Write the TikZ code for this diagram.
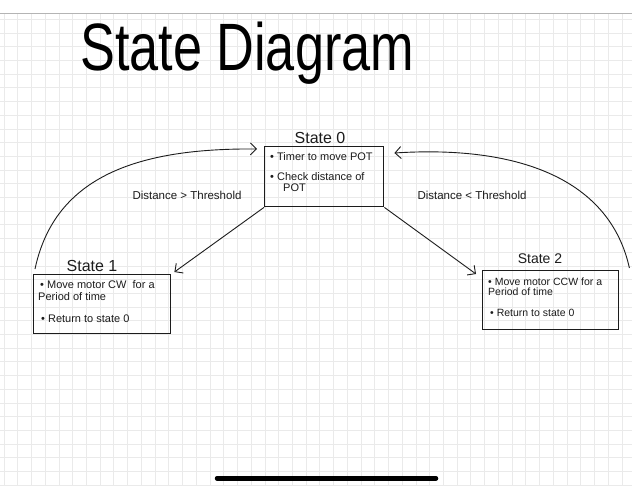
\documentclass[tikz,border=0pt]{standalone}
\usepackage{fontspec}
\setmainfont{Liberation Sans}
\usetikzlibrary{arrows.meta}
\definecolor{ink}{HTML}{1C1C1C}
\definecolor{gridc}{HTML}{EAEAEA}
\definecolor{topline}{HTML}{B4B4B4}
\begin{document}
\begin{tikzpicture}[x=1pt,y=-1pt,
  statebox/.style={draw=ink, line width=1.4pt, inner sep=0pt, anchor=north west},
  bodytxt/.style={font=\fontsize{11}{13}\selectfont, anchor=base west, inner sep=0pt, text=ink},
  smalltxt/.style={font=\fontsize{10.5}{12}\selectfont, anchor=base west, inner sep=0pt, text=ink},
  statelbl/.style={font=\fontsize{16}{18}\selectfont, anchor=base, inner sep=0pt, text=ink},
  condlbl/.style={font=\fontsize{11.5}{13}\selectfont, anchor=base, inner sep=0pt, text=ink},
  conn/.style={draw=ink, line width=0.9pt, -{Straight Barb[length=6pt,width=12pt,line width=0.9pt]}}
]
\useasboundingbox (0,0) rectangle (632,485);
\fill[white] (0,0) rectangle (632,485);
% grid
\foreach \k in {0,...,45} {\draw[gridc, line width=0.7pt] (4+13.73*\k,13.3) -- (4+13.73*\k,485);}
\foreach \k in {0,...,34} {\draw[gridc, line width=0.7pt] (0,19.3+13.7*\k) -- (632,19.3+13.7*\k);}
\draw[topline, line width=1pt] (0,13.3) -- (632,13.3);

% title
\node[font=\fontsize{67}{70}\selectfont, xscale=0.78, anchor=base west, inner sep=0pt, text=black] (title) at (80,70) {State Diagram};

% states
\node[statebox, minimum width=119pt, minimum height=60pt] (s0) at (264,146) {};
\node[statebox, minimum width=137pt, minimum height=59pt] (s1) at (33,274) {};
\node[statebox, minimum width=136pt, minimum height=59pt] (s2) at (482,270) {};

\node[statelbl] (l0) at (320,143) {State 0};
\node[statelbl] (l1) at (92,271) {State 1};
\node[statelbl, font=\fontsize{14}{16}\selectfont] (l2) at (540,263) {State 2};

\node[bodytxt] (t0a) at (270,160) {• Timer to move POT};
\node[bodytxt] (t0b) at (270,180) {• Check distance of};
\node[bodytxt] (t0c) at (283,191.7) {POT};

\node[bodytxt] (t1a) at (40,288.3) {• Move motor CW\ \ for a};
\node[bodytxt] (t1b) at (38,300) {Period of time};
\node[bodytxt] (t1c) at (41,322.3) {• Return to state 0};

\node[smalltxt] (t2a) at (488,285.7) {• Move motor CCW for a};
\node[smalltxt] (t2b) at (488,295.7) {Period of time};
\node[smalltxt] (t2c) at (490,316.7) {• Return to state 0};

% condition labels
\node[condlbl] (c1) at (187,199) {Distance > Threshold};
\node[condlbl] (c2) at (472,199) {Distance < Threshold};

% connectors
\draw[conn] (s0.south west) -- ([xshift=3pt,yshift=2pt]s1.north east);
\draw[conn] (s0.south east) -- ([xshift=-6pt,yshift=-4pt]s2.north west);
\draw[conn] ([xshift=2pt,yshift=5pt]s1.north west) .. controls (55,175) and (140,148) .. ([xshift=-7pt,yshift=-3pt]s0.north west);
\draw[conn] ([xshift=10pt,yshift=2pt]s2.north east) .. controls (610,180) and (520,145) .. ([xshift=10pt,yshift=-7pt]s0.north east);

% home indicator
\draw[black, line width=4.5pt, line cap=round] (217,478.3) -- (436,478.3);
\end{tikzpicture}
\end{document}
